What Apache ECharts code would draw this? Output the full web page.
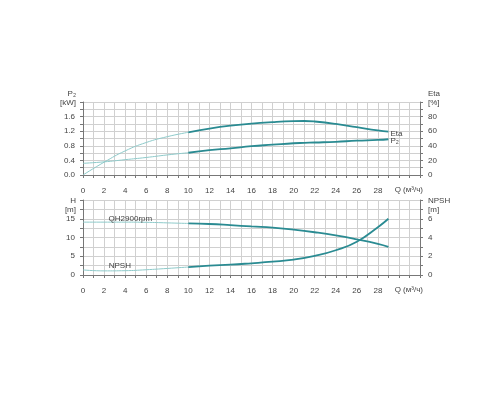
<!DOCTYPE html>
<html>
<head>
<meta charset="utf-8">
<script src="https://cdn.jsdelivr.net/npm/echarts@6/dist/echarts.min.js"></script>
<style>
  html, body { margin: 0; padding: 0; background: #fff; }
  #chart { width: 500px; height: 400px; }
</style>
</head>
<body>
<div id="chart"></div>
<script>
// flow Q, m3/h
const qTop = [0, 2, 4, 6, 8, 10, 12, 14, 16, 18, 20, 21, 22, 24, 26, 28, 29]
// efficiency, %
const eta = [0, 17.5, 33, 44.5, 52.5, 58.5, 63.5, 67.5, 70.5, 72.5, 73.8, 74, 73.3, 70, 65.5, 61, 59.4]
// power P2, kW
const p2 = [0.32, 0.36, 0.42, 0.48, 0.55, 0.61, 0.68, 0.73, 0.79, 0.83, 0.87, 0.88, 0.89, 0.91, 0.94, 0.96, 0.98]

const qBottom = [0, 2, 4, 6, 8, 10, 12, 14, 16, 18, 20, 22, 24, 26, 28, 29]
// head H, m
const head = [14.1, 14.1, 14.1, 14.05, 13.9, 13.75, 13.6, 13.3, 12.95, 12.65, 12.1, 11.4, 10.55, 9.5, 8.3, 7.5]
// NPSH, m
const npsh = [0.54, 0.44, 0.46, 0.56, 0.7, 0.85, 1.0, 1.1, 1.25, 1.42, 1.64, 2.04, 2.64, 3.55, 5.1, 6.0]

const splitQ = 10
const lightColor = '#8ecaca'
const darkColor = '#2a8b92'
const textColor = '#444'
const font = 'Liberation Sans'

function part(qs, vals, light) {
  const out = []
  qs.forEach((q, i) => {
    if (light ? q <= splitQ : q >= splitQ) out.push([q, vals[i]])
  })
  return out
}

function xAxis(gridIndex) {
  return {
    type: 'value', gridIndex, min: 0, max: 32, interval: 2,
    name: 'Q (м³/ч)', nameLocation: 'end', nameGap: 3,
    nameTextStyle: { color: textColor, fontSize: 8, fontFamily: font, align: 'right', verticalAlign: 'top', padding: [11, 0, 0, 0] },
    axisLine: { lineStyle: { color: '#777', width: 1 } },
    axisTick: { length: 3, lineStyle: { color: '#777' } },
    minorTick: { show: true, splitNumber: 2, length: 3, lineStyle: { color: '#777' } },
    axisLabel: { color: textColor, fontSize: 8, fontFamily: font, margin: 12,
      formatter: v => (v > 28 ? '' : v) },
    splitLine: { lineStyle: { color: '#d0d0d0' } },
    minorSplitLine: { show: true, lineStyle: { color: '#d0d0d0' } }
  }
}

function yAxis(gridIndex, pos, max, interval, name, gap, fmt) {
  return {
    type: 'value', gridIndex, position: pos, min: 0, max, interval,
    name, nameLocation: 'end', nameGap: gap,
    nameTextStyle: { color: textColor, fontSize: 8, fontFamily: font, lineHeight: 9,
      align: pos === 'left' ? 'right' : 'left',
      padding: pos === 'left' ? [0, 7, 0, 0] : [0, 0, 0, 8] },
    axisLine: { show: true, lineStyle: { color: '#777', width: 1 } },
    axisTick: { show: true, length: 3, lineStyle: { color: '#777' } },
    minorTick: { show: true, splitNumber: 2, length: 3, lineStyle: { color: '#777' } },
    axisLabel: { color: textColor, fontSize: 8, fontFamily: font, margin: 8,
      formatter: v => (v >= max ? '' : fmt(v)) },
    splitLine: { show: pos === 'left', lineStyle: { color: '#d0d0d0' } },
    minorSplitLine: { show: pos === 'left', lineStyle: { color: '#d0d0d0' } }
  }
}

function line(xi, yi, data, light, extra) {
  return Object.assign({
    type: 'line', xAxisIndex: xi, yAxisIndex: yi, data, smooth: true, showSymbol: false,
    lineStyle: { color: light ? lightColor : darkColor, width: light ? 1 : 1.8 },
    silent: true, animation: false
  }, extra || {})
}

const endLbl = txt => ({
  endLabel: { show: true, formatter: txt, color: textColor, fontSize: 8, fontFamily: font, distance: 2, offset: [0, 2] }
})

const chart = echarts.init(document.getElementById('chart'))
chart.setOption({
  animation: false,
  grid: [
    { left: 83, right: 80, top: 102, height: 73 },
    { left: 83, right: 80, top: 200, height: 75 }
  ],
  xAxis: [xAxis(0), xAxis(1)],
  yAxis: [
    yAxis(0, 'left', 2, 0.4, 'P₂\n[kW]', -5, v => v.toFixed(1)),
    yAxis(0, 'right', 100, 20, 'Eta\n[%]', -5, v => v),
    yAxis(1, 'left', 20, 5, 'H\n[m]', -14, v => v),
    yAxis(1, 'right', 8, 2, 'NPSH\n[m]', -14, v => v)
  ],
  series: [
    line(0, 1, part(qTop, eta, true), true),
    line(0, 1, part(qTop, eta, false), false, endLbl('Eta')),
    line(0, 0, part(qTop, p2, true), true),
    line(0, 0, part(qTop, p2, false), false, endLbl('P₂')),
    line(1, 2, part(qBottom, head, true), true, {
      markPoint: { symbolSize: 0, silent: true,
        label: { show: true, formatter: 'QH2900rpm', color: textColor, fontSize: 8, fontFamily: font },
        data: [{ coord: [4.5, 15] }] }
    }),
    line(1, 2, part(qBottom, head, false), false),
    line(1, 3, part(qBottom, npsh, true), true, {
      markPoint: { symbolSize: 0, silent: true,
        label: { show: true, formatter: 'NPSH', color: textColor, fontSize: 8, fontFamily: font },
        data: [{ coord: [3.5, 1.0] }] }
    }),
    line(1, 3, part(qBottom, npsh, false), false)
  ]
})
</script>
</body>
</html>
